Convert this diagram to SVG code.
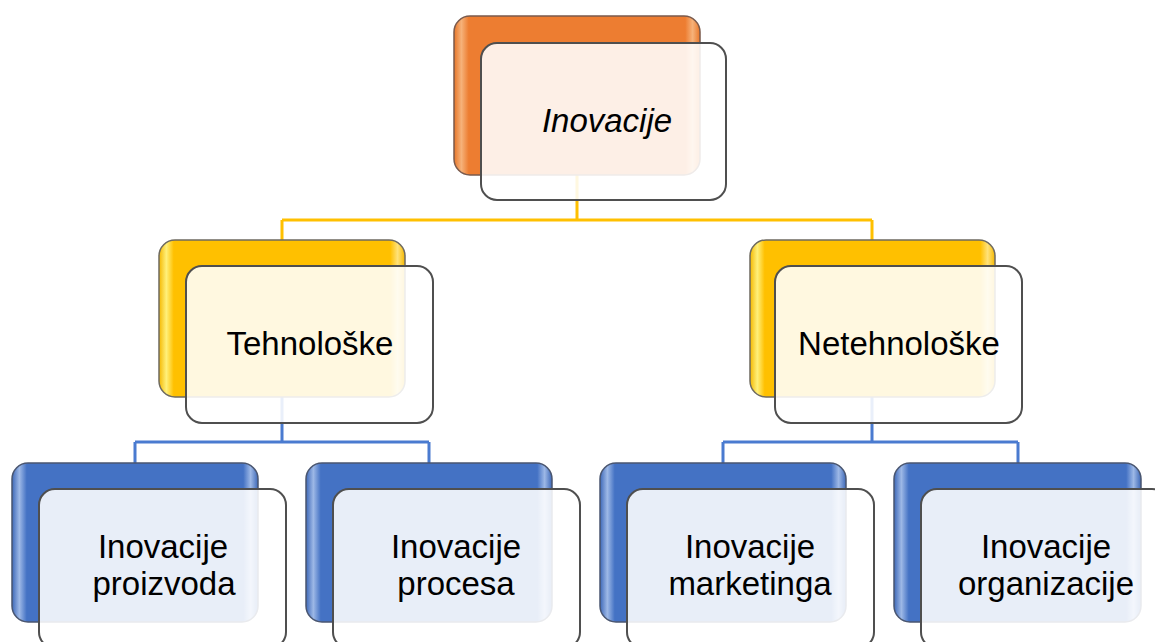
<svg xmlns="http://www.w3.org/2000/svg" width="1155" height="642" viewBox="0 0 1155 642">
<defs>
<linearGradient id="gO" x1="0" y1="0" x2="1" y2="0">
<stop offset="0" stop-color="#E87628"/><stop offset="0.03" stop-color="#F6B27A"/><stop offset="0.06" stop-color="#ED7D31"/><stop offset="0.94" stop-color="#ED7D31"/><stop offset="0.97" stop-color="#F6B27A"/><stop offset="1" stop-color="#E87628"/>
</linearGradient>
<linearGradient id="gY" x1="0" y1="0" x2="1" y2="0">
<stop offset="0" stop-color="#F5B800"/><stop offset="0.03" stop-color="#FFF07A"/><stop offset="0.06" stop-color="#FFC000"/><stop offset="0.94" stop-color="#FFC000"/><stop offset="0.97" stop-color="#FFE27A"/><stop offset="1" stop-color="#F5B800"/>
</linearGradient>
<linearGradient id="gB" x1="0" y1="0" x2="1" y2="0">
<stop offset="0" stop-color="#3D68B8"/><stop offset="0.03" stop-color="#9DB8E6"/><stop offset="0.06" stop-color="#4472C4"/><stop offset="0.94" stop-color="#4472C4"/><stop offset="0.97" stop-color="#9DB8E6"/><stop offset="1" stop-color="#3D68B8"/>
</linearGradient>
</defs>
<style>
.bo{fill:url(#gO);stroke:#7A5A4C;stroke-width:1.5}
.by{fill:url(#gY);stroke:#6E6A60;stroke-width:1.5}
.bb{fill:url(#gB);stroke:#4A5670;stroke-width:1.5}
.fr{fill:#FFFFFF;fill-opacity:0.88;stroke:#4F4F4F;stroke-width:2}
.t{font-family:"Liberation Sans",Arial,sans-serif;font-size:33px;fill:#000;text-anchor:middle}
.cy{fill:none;stroke:#FFC000;stroke-width:3}
.cb{fill:none;stroke:#4A7BD0;stroke-width:3}
</style>
<g id="connectors">
<path class="cy" d="M577 175V220M282 220H872M282 220V240M872 220V240"/>
<path class="cb" d="M282 397V442M135 442H429M135 442V463M429 442V463"/>
<path class="cb" d="M872 397V442M723 442H1018M723 442V463M1018 442V463"/>
</g>
<g id="node-inovacije">
<rect class="bo" x="454" y="16" width="246" height="159" rx="16"/>
<rect class="fr" x="481" y="43" width="245" height="157" rx="16"/>
<text class="t" x="607" y="132" font-style="italic">Inovacije</text>
</g>
<g id="node-tehnoloske">
<rect class="by" x="159" y="240" width="246" height="157" rx="16"/>
<rect class="fr" x="186" y="266" width="247" height="157" rx="16"/>
<text class="t" x="310" y="355">Tehnološke</text>
</g>
<g id="node-netehnoloske">
<rect class="by" x="750" y="240" width="245" height="157" rx="16"/>
<rect class="fr" x="775" y="266" width="247" height="157" rx="16"/>
<text class="t" x="899" y="355">Netehnološke</text>
</g>
<g id="node-proizvoda">
<rect class="bb" x="12" y="463" width="246" height="159" rx="16"/>
<rect class="fr" x="39" y="489" width="247" height="159" rx="16"/>
<text class="t" x="163" y="558">Inovacije</text>
<text class="t" x="164" y="595">proizvoda</text>
</g>
<g id="node-procesa">
<rect class="bb" x="306" y="463" width="246" height="159" rx="16"/>
<rect class="fr" x="333" y="489" width="247" height="159" rx="16"/>
<text class="t" x="456" y="558">Inovacije</text>
<text class="t" x="456" y="595">procesa</text>
</g>
<g id="node-marketinga">
<rect class="bb" x="600" y="463" width="246" height="159" rx="16"/>
<rect class="fr" x="627" y="489" width="247" height="159" rx="16"/>
<text class="t" x="750" y="558">Inovacije</text>
<text class="t" x="750" y="595">marketinga</text>
</g>
<g id="node-organizacije">
<rect class="bb" x="894" y="463" width="247" height="159" rx="16"/>
<rect class="fr" x="921" y="489" width="247" height="159" rx="16"/>
<text class="t" x="1046" y="558">Inovacije</text>
<text class="t" x="1046" y="595">organizacije</text>
</g>
</svg>
